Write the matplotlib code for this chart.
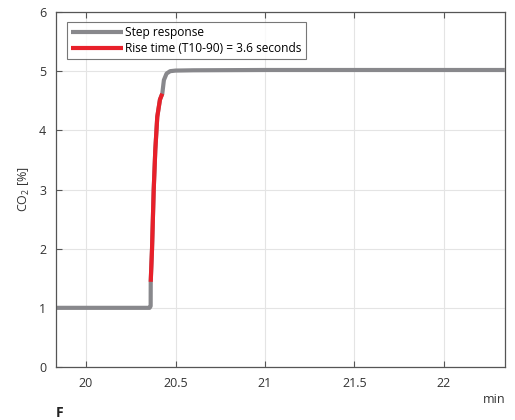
import matplotlib
matplotlib.use('Agg')
from matplotlib import pyplot as plt

# step response (time in min, CO2 in %)
step_t = [19.83, 20.20, 20.355, 20.361, 20.3614, 20.3687, 20.378, 20.387, 20.398, 20.413, 20.426,
          20.435, 20.45, 20.47, 20.50, 20.60, 21.0, 21.5, 22.0, 22.34]
step_y = [1.0, 1.0, 1.0, 1.03, 1.44, 2.0, 2.99, 3.67, 4.23, 4.52, 4.62,
          4.85, 4.96, 5.0, 5.01, 5.015, 5.02, 5.02, 5.02, 5.02]

# rise time part (T10-90)
rise_t = [20.3614, 20.3687, 20.378, 20.387, 20.398, 20.413, 20.426]
rise_y = [1.44, 2.0, 2.99, 3.67, 4.23, 4.52, 4.62]

x_ticks = [20, 20.5, 21, 21.5, 22]
x_labels = ['20', '20.5', '21', '21.5', '22']
y_ticks = [0, 1, 2, 3, 4, 5, 6]

plt.rcParams['font.family'] = ['Open Sans', 'DejaVu Sans']
plt.rcParams['mathtext.fontset'] = 'custom'
plt.rcParams['mathtext.rm'] = 'Open Sans'

fig = plt.figure(figsize=(5.15, 4.2), dpi=100)
ax = fig.add_axes([0.1087, 0.1262, 0.8719, 0.8452])

ax.plot(step_t, step_y, color='#88888c', lw=3, solid_capstyle='butt', label='Step response')
ax.plot(rise_t, rise_y, color='#e8202a', lw=3, solid_capstyle='butt',
        label='Rise time (T10-90) = 3.6 seconds')

ax.set_xlim(19.832, 22.341)
ax.set_ylim(0, 6)
ax.set_xticks(x_ticks)
ax.set_xticklabels(x_labels)
ax.set_yticks(y_ticks)
ax.grid(True, color='#e4e4e4', lw=0.8)
ax.set_axisbelow(True)
ax.tick_params(direction='in', length=4, width=0.8, color='#555555', labelcolor='#333333',
               labelsize=9, top=True, right=False, pad=7)
for s in ax.spines.values():
    s.set_color('#555555')
    s.set_linewidth(0.9)

ax.set_ylabel('CO$_\\mathrm{2}$ [%]', fontsize=9, color='#333333', labelpad=5)

leg = ax.legend(loc='upper left', fontsize=8.6, frameon=True, fancybox=False,
                edgecolor='#555555', handlelength=4.3, handletextpad=0.2,
                borderpad=0.35, labelspacing=0.25, borderaxespad=0.0,
                bbox_to_anchor=(0.025, 0.973))
leg.get_frame().set_linewidth(0.8)

fig.text(0.981, 0.033, 'min', ha='right', va='bottom', fontsize=9, color='#333333')
fig.text(0.108, 0.0, 'F', ha='left', va='bottom', fontsize=10, fontweight='bold', color='#222222')

fig.savefig('out.png', dpi=100)
